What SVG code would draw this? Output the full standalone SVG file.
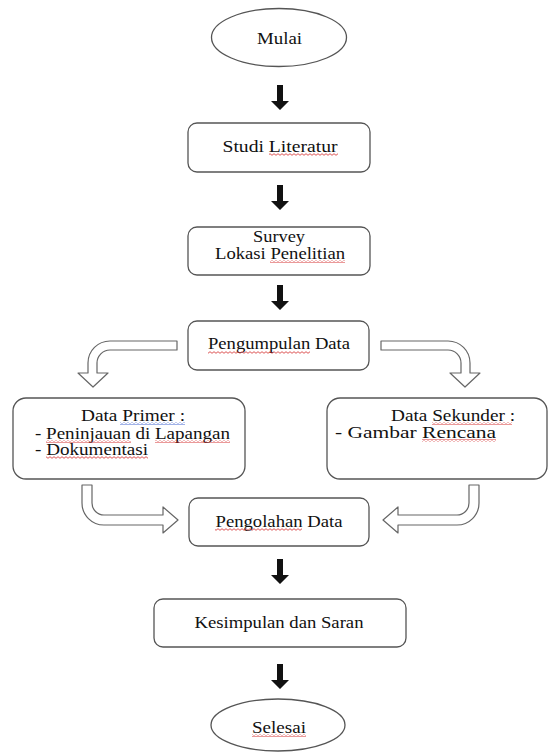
<svg xmlns="http://www.w3.org/2000/svg" xmlns:xlink="http://www.w3.org/1999/xlink" width="552" height="755" viewBox="0 0 552 755" font-family="'Liberation Serif', 'DejaVu Serif', serif">
<style>
.box{fill:#fff;stroke:#555;stroke-width:1.3}
.blk{fill:#fff;stroke:#666;stroke-width:1.2;stroke-linejoin:round}
.t{font-size:16px;fill:#111}
.c{text-anchor:middle}
</style>
<defs>
<pattern id="wr" width="4" height="3" patternUnits="userSpaceOnUse"><path d="M0,2.3 L2,0.7 L4,2.3" fill="none" stroke="#d42a2a" stroke-width="0.8"/></pattern>
<pattern id="wb" width="4" height="3" patternUnits="userSpaceOnUse"><path d="M0,2.3 L2,0.7 L4,2.3" fill="none" stroke="#3a5fd0" stroke-width="0.8"/></pattern>
<path id="da" d="M-3,0 H3 V16 H9 L0,25 L-9,16 H-3 Z" fill="#111"/>
</defs>
<rect width="552" height="755" fill="#fff"/>

<g id="connectors">
<use xlink:href="#da" x="280" y="85"/>
<use xlink:href="#da" x="280" y="185"/>
<use xlink:href="#da" x="280" y="285"/>
<use xlink:href="#da" x="280" y="559"/>
<use xlink:href="#da" x="280" y="664"/>
<path class="blk" d="M177,341 H110 A22,22 0 0 0 88,363 V373 H78 L93,387 L108,373 H97 V363 A13,13 0 0 1 110,350 H177 Z"/>
<path class="blk" d="M381,341 H448 A22,22 0 0 1 470,363 V373 H480 L465,387 L450,373 H461 V363 A13,13 0 0 0 448,350 H381 Z"/>
<path class="blk" d="M82,485 V503 A22,22 0 0 0 104,525 H163 V533 L178,520 L163,507 V515 H104 A12,12 0 0 1 92,503 V485 Z"/>
<path class="blk" d="M479,485 V503 A22,22 0 0 1 457,525 H398 V533 L383,520 L398,507 V515 H457 A12,12 0 0 0 469,503 V485 Z"/>
</g>

<g id="mulai">
<ellipse class="box" cx="279" cy="37.5" rx="67.5" ry="29"/>
<text class="t c" x="279.5" y="44" textLength="45" lengthAdjust="spacingAndGlyphs">Mulai</text>
</g>

<g id="studi">
<rect class="box" x="188" y="123" width="182" height="49" rx="9"/>
<text class="t c" x="280" y="152" textLength="115" lengthAdjust="spacingAndGlyphs">Studi Literatur</text>
<rect x="269" y="153" width="69" height="3" fill="url(#wr)"/>
</g>

<g id="survey">
<rect class="box" x="188" y="227" width="182" height="48" rx="9"/>
<text class="t c" x="279" y="242" textLength="52" lengthAdjust="spacingAndGlyphs">Survey</text>
<text class="t c" x="280" y="259" textLength="130" lengthAdjust="spacingAndGlyphs">Lokasi Penelitian</text>
<rect x="270" y="260" width="75" height="3" fill="url(#wr)"/>
</g>

<g id="pengumpulan">
<rect class="box" x="188" y="321" width="181" height="49" rx="9"/>
<text class="t c" x="279" y="349" textLength="142" lengthAdjust="spacingAndGlyphs">Pengumpulan Data</text>
<rect x="208" y="351" width="102" height="3" fill="url(#wr)"/>
</g>

<g id="primer">
<rect class="box" x="13" y="398" width="232" height="81" rx="13"/>
<text class="t c" x="133" y="421" textLength="104" lengthAdjust="spacingAndGlyphs">Data Primer :</text>
<rect x="120" y="422" width="65" height="3" fill="url(#wb)"/>
<text class="t" x="35" y="439" textLength="195" lengthAdjust="spacingAndGlyphs">- Peninjauan di Lapangan</text>
<rect x="46" y="440" width="85" height="3" fill="url(#wr)"/>
<rect x="155" y="440" width="75" height="3" fill="url(#wr)"/>
<text class="t" x="35" y="455" textLength="113" lengthAdjust="spacingAndGlyphs">- Dokumentasi</text>
<rect x="46" y="456" width="102" height="3" fill="url(#wr)"/>
</g>

<g id="sekunder">
<rect class="box" x="327" y="398" width="220" height="81" rx="13"/>
<text class="t" x="391" y="421" textLength="124" lengthAdjust="spacingAndGlyphs">Data Sekunder :</text>
<rect x="432" y="422" width="80" height="3" fill="url(#wr)"/>
<text class="t" x="335" y="438" textLength="161" lengthAdjust="spacingAndGlyphs">- Gambar Rencana</text>
<rect x="422" y="439" width="74" height="3" fill="url(#wr)"/>
</g>

<g id="pengolahan">
<rect class="box" x="189" y="498" width="180" height="48" rx="9"/>
<text class="t c" x="279" y="527" textLength="127" lengthAdjust="spacingAndGlyphs">Pengolahan Data</text>
<rect x="215" y="528" width="87" height="3" fill="url(#wr)"/>
</g>

<g id="kesimpulan">
<rect class="box" x="154" y="599" width="252" height="48" rx="9"/>
<text class="t c" x="279" y="628" textLength="169" lengthAdjust="spacingAndGlyphs">Kesimpulan dan Saran</text>
</g>

<g id="selesai">
<ellipse class="box" cx="278" cy="725" rx="67" ry="26"/>
<text class="t c" x="279" y="733" textLength="54" lengthAdjust="spacingAndGlyphs">Selesai</text>
<rect x="252" y="734" width="54" height="3" fill="url(#wr)"/>
</g>
</svg>
